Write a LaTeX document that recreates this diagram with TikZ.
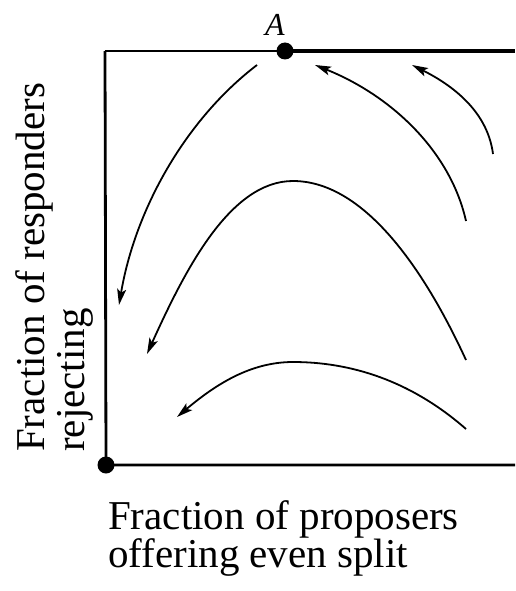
\documentclass[tikz,border=0pt]{standalone}
\usepackage{fontspec}
\setmainfont{Liberation Serif}
\usetikzlibrary{arrows.meta}
\begin{document}
\begin{tikzpicture}[x=1pt,y=-1pt,
  flow/.style={line width=1.8pt,-{Stealth[length=16pt,width=9pt,inset=3.5pt]}},
  axisline/.style={line width=2.8pt},
  dotmark/.style={circle,fill=black,inner sep=0pt,minimum size=17pt},
  lbl/.style={font=\fontsize{41}{39}\selectfont,inner sep=0pt}]
\useasboundingbox (0,0) rectangle (515,591);
% axes
\coordinate (TL) at (105,51);
\coordinate (TR) at (515,51);
\coordinate (BR) at (515,465);
\node[dotmark] (dotO) at (106,465) {};
\node[dotmark] (dotA) at (285,51) {};
\draw[line width=1.6pt] (TL) -- (dotA.center);
\draw[line width=3.8pt] (dotA.center) -- (TR);
\draw[axisline] (TL) -- (dotO.center) -- (BR);
\node[font=\fontsize{32}{32}\selectfont\itshape,inner sep=0pt,anchor=base] (Alab) at (275,36) {A};
% flow curves
\draw[flow] (257,65) .. controls (185,120) and (135,210) .. (119,305);
\draw[flow] (466,360) .. controls (420,260) and (360,181) .. (293,181) .. controls (230,181) and (185,270) .. (147,354);
\draw[flow] (466,429) .. controls (410,380) and (350,362) .. (293,362) .. controls (250,362) and (215,385) .. (177,417);
\draw[flow] (466,221) .. controls (450,150) and (390,95) .. (315,65);
\draw[flow] (493,154) .. controls (488,115) and (458,88) .. (412,65);
% labels
\node[lbl,anchor=base west] (xlab1) at (108,529) {Fraction of proposers};
\node[lbl,anchor=base west] (xlab2) at (108,567) {offering even split};
\node[lbl,anchor=base west,rotate=90] (ylab1) at (44,452) {Fraction of responders};
\node[lbl,anchor=base west,rotate=90] (ylab2) at (84,452) {rejecting};
\end{tikzpicture}
\end{document}
